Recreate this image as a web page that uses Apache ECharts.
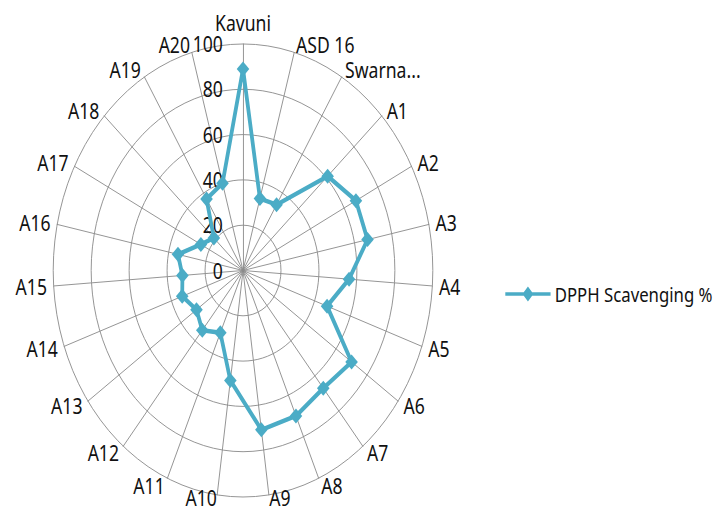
<!DOCTYPE html>
<html>
<head>
<meta charset="utf-8">
<script src="https://cdn.jsdelivr.net/npm/echarts@6/dist/echarts.min.js"></script>
<style>
html,body{margin:0;padding:0;background:#fff;overflow:hidden;width:719px;height:514px;}
#wrap{width:719px;height:514px;overflow:hidden;position:relative;}
#chart{width:858px;height:514px;transform:scaleX(0.838);transform-origin:0 0;position:absolute;left:0;top:0;}
</style>
</head>
<body>
<div id="wrap"><div id="chart"></div></div>
<script>
const categories = ['Kavuni','ASD 16','Swarna...','A1','A2','A3','A4','A5','A6','A7','A8','A9','A10','A11','A12','A13','A14','A15','A16','A17','A18','A19','A20'];
const dpphValues = [89,33,34,61,67,67,56,47,70,67,70,71,49,30,34,30,34,32,35,25,21,37,40];
const tickLabels = ['0','20','40','60','80','100'];
const seriesName = 'DPPH Scavenging %';

// ECharts lays indicators out counter-clockwise; the reference runs clockwise,
// so keep the first category at the top and reverse the rest.
const order = [0].concat(categories.map((_, i) => i).slice(1).reverse());

const FONT = 'Noto Sans';
const chart = echarts.init(document.getElementById('chart'), null, {renderer:'svg'});
const indicator = order.map((idx, j)=>{
  const o = {name:categories[idx], min:0, max:100};
  if (j === 0) {
    o.axisLabel = {show:true, margin:24, fontSize:21, color:'#111', fontFamily:FONT,
      formatter:(v)=>{ const k = Math.round(v/20); return tickLabels[k] !== undefined ? tickLabels[k] : ''; }};
  }
  if (categories[idx] === 'A9' || categories[idx] === 'A10') {
    o.nameGap = 3;
  }
  return o;
});
const orderedValues = order.map(idx => dpphValues[idx]);

chart.setOption({
  animation:false,
  backgroundColor:'#fff',
  legend:{
    left:598, top:279, itemWidth:54, itemHeight:22, itemGap:10,
    data:[{name:seriesName, icon:'path://M0,9.3 L22,9.3 L27,3.5 L32,9.3 L54,9.3 L54,12.7 L32,12.7 L27,18.5 L22,12.7 L0,12.7 Z'}],
    textStyle:{fontSize:20, color:'#111', fontFamily:FONT}
  },
  radar:{
    center:[290,270.5], radius:226.5, startAngle:90, shape:'circle', splitNumber:5,
    indicator:indicator,
    axisName:{color:'#111', fontSize:21, fontFamily:FONT},
    nameGap:8,
    axisLine:{lineStyle:{color:'#8c8c8c', width:1}},
    axisTick:{show:false},
    axisLabel:{show:false},
    splitLine:{lineStyle:{color:'#8c8c8c', width:1}},
    splitArea:{show:false}
  },
  series:[{
    type:'radar', name:seriesName,
    symbol:'diamond', symbolSize:15,
    itemStyle:{color:'#4BACC6'},
    lineStyle:{color:'#4BACC6', width:4.5},
    data:[{value:orderedValues, name:seriesName}]
  }]
});
</script>
</body>
</html>
